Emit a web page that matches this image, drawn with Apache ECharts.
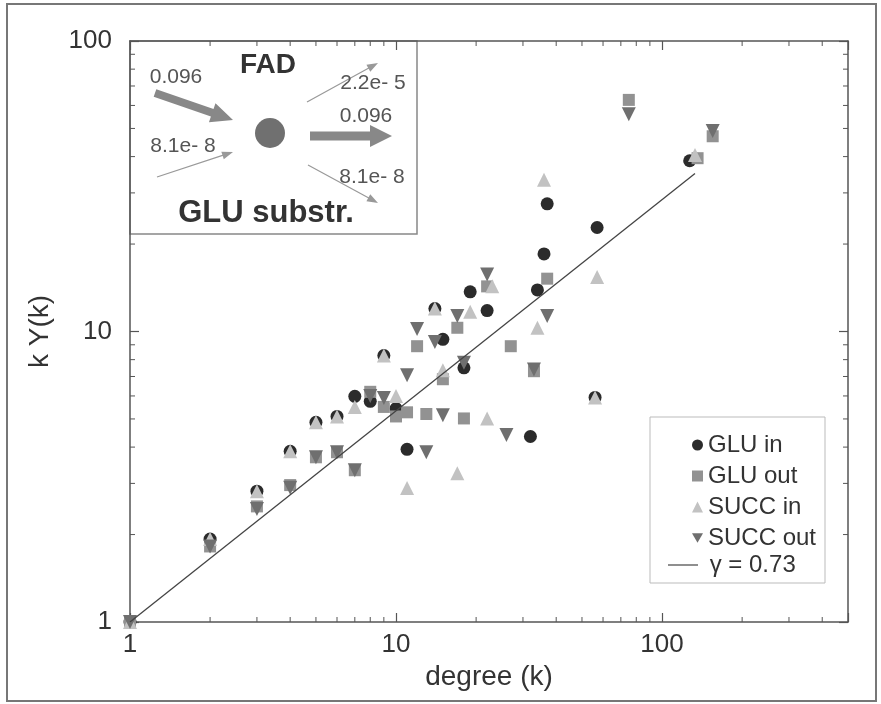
<!DOCTYPE html>
<html>
<head>
<meta charset="utf-8">
<script src="https://cdn.jsdelivr.net/npm/echarts@6/dist/echarts.min.js"></script>
<style>
  html, body { margin: 0; background: #fff; }
  #chart { width: 881px; height: 704px; }
</style>
</head>
<body>
<div id="chart"></div>
<script>
// degree k and k*Y(k)
const gluInK = [1, 2, 3, 4, 5, 6, 7, 8, 9, 10, 11, 14, 15, 18, 19, 22, 32, 34, 36, 37, 56, 57, 127];
const gluInY = [1, 1.93, 2.82, 3.87, 4.87, 5.1, 5.98, 5.75, 8.26, 5.43, 3.93, 12.0, 9.4, 7.5, 13.7, 11.8, 4.35, 13.9, 18.5, 27.5, 5.93, 22.8, 38.7];

const gluOutK = [1, 2, 3, 4, 5, 6, 7, 8, 9, 10, 11, 12, 13, 15, 17, 18, 22, 27, 33, 37, 75, 136, 155];
const gluOutY = [1, 1.82, 2.5, 2.96, 3.69, 3.84, 3.33, 6.2, 5.5, 5.1, 5.27, 8.9, 5.2, 6.85, 10.3, 5.02, 14.3, 8.9, 7.3, 15.2, 62.7, 39.5, 47];

const succInK = [1, 2, 3, 4, 5, 6, 7, 9, 10, 11, 14, 15, 17, 19, 22, 23, 34, 36, 56, 57, 133];
const succInY = [1, 1.93, 2.82, 3.87, 4.87, 5.1, 5.5, 8.26, 6.0, 2.89, 12.0, 7.35, 3.25, 11.7, 5.02, 14.3, 10.3, 33.3, 5.93, 15.4, 40.5];

const succOutK = [1, 2, 3, 4, 5, 6, 7, 8, 9, 11, 12, 13, 14, 15, 17, 18, 22, 26, 33, 37, 75, 155];
const succOutY = [1, 1.82, 2.45, 2.9, 3.69, 3.84, 3.33, 6.0, 5.9, 7.07, 10.2, 3.84, 9.2, 5.15, 11.3, 7.8, 15.7, 4.4, 7.4, 11.3, 56, 49];

// power-law fit, gamma = 0.73
const fitK = [1, 133];
const fitY = [1, 35];

// log minor ticks
const minorX = [2, 3, 4, 5, 6, 7, 8, 9, 20, 30, 40, 50, 60, 70, 80, 90, 200, 300, 400];
const minorY = [2, 3, 4, 5, 6, 7, 8, 9, 20, 30, 40, 50, 60, 70, 80, 90];

const FONT = 'Liberation Sans';
const AXIS = '#555';
const DOWN_TRI = 'path://M0,0 L2,0 L1,1.75 Z';

function pairs(xs, ys) {
  return xs.map((v, i) => [v, ys[i]]);
}

// arrow polygon for the inset sketch
function arrow(x1, y1, x2, y2, shaft, head, headLen, color) {
  const dx = x2 - x1, dy = y2 - y1;
  const len = Math.sqrt(dx * dx + dy * dy);
  const ux = dx / len, uy = dy / len, nx = -uy, ny = ux;
  const bx = x2 - ux * headLen, by = y2 - uy * headLen;
  const pts = [
    [x1 + nx * shaft, y1 + ny * shaft],
    [bx + nx * shaft, by + ny * shaft],
    [bx + nx * head, by + ny * head],
    [x2, y2],
    [bx - nx * head, by - ny * head],
    [bx - nx * shaft, by - ny * shaft],
    [x1 - nx * shaft, y1 - ny * shaft]
  ];
  return { type: 'polygon', z: 5, shape: { points: pts }, style: { fill: color } };
}

function insetText(text, x, y, size, bold) {
  return {
    type: 'text', z: 6, x: x, y: y,
    style: {
      text: text, fontFamily: FONT, fontSize: size, fontWeight: bold ? 'bold' : 'normal',
      fill: bold ? '#333' : '#555', align: 'center', verticalAlign: 'middle'
    }
  };
}

function xTick(params, api) {
  const cs = params.coordSys;
  const px = api.coord([api.value(0), 1])[0];
  const st = { stroke: AXIS, lineWidth: 1 };
  return {
    type: 'group',
    children: [
      { type: 'line', shape: { x1: px, y1: cs.y + cs.height, x2: px, y2: cs.y + cs.height - 5 }, style: st },
      { type: 'line', shape: { x1: px, y1: cs.y, x2: px, y2: cs.y + 5 }, style: st }
    ]
  };
}

function yTick(params, api) {
  const cs = params.coordSys;
  const py = api.coord([1, api.value(1)])[1];
  const st = { stroke: AXIS, lineWidth: 1 };
  return {
    type: 'group',
    children: [
      { type: 'line', shape: { x1: cs.x, y1: py, x2: cs.x + 5, y2: py }, style: st },
      { type: 'line', shape: { x1: cs.x + cs.width, y1: py, x2: cs.x + cs.width - 5, y2: py }, style: st }
    ]
  };
}

function decadeLabel(v) {
  const e = Math.log10(v);
  return Math.abs(e - Math.round(e)) < 1e-6 ? String(Math.round(v)) : '';
}

const axisLine = { lineStyle: { color: AXIS, width: 1.5 } };
const axisTick = { inside: true, length: 9, lineStyle: { color: AXIS, width: 1.2 } };
const labelStyle = { fontFamily: FONT, fontSize: 26, color: '#333' };

const chart = echarts.init(document.getElementById('chart'));
chart.setOption({
  animation: false,
  backgroundColor: '#fff',
  grid: { left: 130, right: 33, top: 41, bottom: 82 },
  xAxis: [{
    type: 'log', logBase: 10, min: 1, max: 500, position: 'bottom',
    axisLine: axisLine, axisTick: axisTick, splitLine: { show: false },
    axisLabel: Object.assign({ margin: 10, formatter: decadeLabel }, labelStyle),
    name: 'degree (k)', nameLocation: 'middle', nameGap: 40,
    nameTextStyle: { fontFamily: FONT, fontSize: 28, color: '#333' }
  }, {
    type: 'log', logBase: 10, min: 1, max: 500, position: 'top',
    axisLine: axisLine, axisTick: axisTick, splitLine: { show: false },
    axisLabel: { show: false }
  }],
  yAxis: [{
    type: 'log', logBase: 10, min: 1, max: 100, position: 'left',
    axisLine: axisLine, axisTick: axisTick, splitLine: { show: false },
    axisLabel: Object.assign({ margin: 18, formatter: decadeLabel }, labelStyle),
    name: 'k Y(k)', nameLocation: 'middle', nameGap: 76,
    nameTextStyle: { fontFamily: FONT, fontSize: 28, color: '#333' }
  }, {
    type: 'log', logBase: 10, min: 1, max: 100, position: 'right',
    axisLine: axisLine, axisTick: axisTick, splitLine: { show: false },
    axisLabel: { show: false }
  }],
  legend: [{
    orient: 'vertical', left: 687, top: 428,
    itemWidth: 11, itemHeight: 11, itemGap: 7,
    textStyle: { fontFamily: FONT, fontSize: 24, color: '#333' },
    data: ['GLU in', 'GLU out', 'SUCC in', { name: 'SUCC out', icon: DOWN_TRI }]
  }, {
    orient: 'vertical', left: 663, top: 548,
    itemWidth: 30, itemHeight: 11,
    formatter: name => ' ' + name,
    textStyle: { fontFamily: FONT, fontSize: 24, color: '#333' },
    data: [{ name: 'γ = 0.73', icon: 'path://M0,0 L30,0 L30,1.2 L0,1.2 Z' }]
  }],
  graphic: [
    { type: 'rect', z: -1, shape: { x: 7, y: 4, width: 869, height: 697 }, style: { fill: 'none', stroke: '#777', lineWidth: 2 } },
    { type: 'rect', z: -1, shape: { x: 130, y: 41, width: 287, height: 193 }, style: { fill: '#fff', stroke: '#888', lineWidth: 1.5 } },
    { type: 'rect', z: -1, shape: { x: 650, y: 417, width: 175, height: 166 }, style: { fill: '#fff', stroke: '#bbb', lineWidth: 1 } },
    insetText('FAD', 268, 65, 28, true),
    insetText('GLU substr.', 266, 213, 31, true),
    insetText('0.096', 176, 77, 21),
    insetText('8.1e- 8', 183, 146, 21),
    insetText('2.2e- 5', 373, 83, 21),
    insetText('0.096', 366, 116, 21),
    insetText('8.1e- 8', 372, 177, 21),
    arrow(155, 93, 233, 120, 4, 10, 22, '#888'),
    arrow(310, 136, 392, 136, 4.5, 11, 22, '#888'),
    arrow(157, 177, 233, 152, 0.6, 4, 11, '#999'),
    arrow(307, 102, 378, 63, 0.6, 4, 11, '#999'),
    arrow(308, 165, 378, 203, 0.6, 4, 11, '#999'),
    { type: 'circle', z: 5, shape: { cx: 270, cy: 133, r: 15 }, style: { fill: '#707070' } }
  ],
  series: [{
    type: 'custom', name: 'xminor', xAxisIndex: 0, yAxisIndex: 0, clip: false, silent: true,
    renderItem: xTick, data: minorX.map(v => [v, 1])
  }, {
    type: 'custom', name: 'yminor', xAxisIndex: 0, yAxisIndex: 0, clip: false, silent: true,
    renderItem: yTick, data: minorY.map(v => [1, v])
  }, {
    type: 'line', name: 'γ = 0.73', data: pairs(fitK, fitY), symbol: 'none',
    lineStyle: { color: '#444', width: 1.3 }, itemStyle: { color: '#444' }
  }, {
    type: 'scatter', name: 'GLU in', data: pairs(gluInK, gluInY),
    symbol: 'circle', symbolSize: 13, itemStyle: { color: '#2b2b2b', opacity: 1 }
  }, {
    type: 'scatter', name: 'GLU out', data: pairs(gluOutK, gluOutY),
    symbol: 'rect', symbolSize: 12, itemStyle: { color: '#929292', opacity: 1 }
  }, {
    type: 'scatter', name: 'SUCC in', data: pairs(succInK, succInY),
    symbol: 'triangle', symbolSize: 14, itemStyle: { color: '#c2c2c2', opacity: 1 }
  }, {
    type: 'scatter', name: 'SUCC out', data: pairs(succOutK, succOutY),
    symbol: DOWN_TRI, symbolSize: 14, itemStyle: { color: '#6f6f6f', opacity: 1 }
  }]
});
</script>
</body>
</html>
